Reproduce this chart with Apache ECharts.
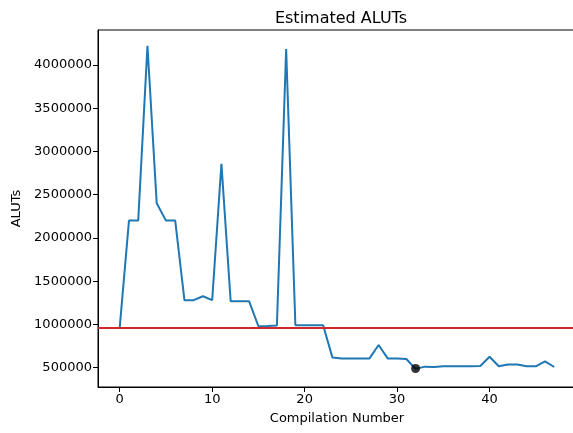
<!DOCTYPE html>
<html>
<head>
<meta charset="utf-8">
<script src="https://cdn.jsdelivr.net/npm/echarts@6/dist/echarts.min.js"></script>
<style>
    html, body { margin: 0; padding: 0; background: #fff; }
    #chart { width: 573px; height: 433px; }
</style>
</head>
<body>
<div id="chart"></div>
<script>
// 数据
var compilations = [];
for (var i = 0; i < 48; i++) compilations.push(i);
var aluts = [965000, 2200000, 2200000, 4223000, 2400000, 2200000, 2200000, 1280000, 1280000, 1325000,
    1280000, 2857000, 1267000, 1267000, 1267000, 978000, 982000, 988000, 4185000, 990000,
    990000, 990000, 990000, 618000, 604000, 604000, 604000, 604000, 761000, 604000,
    605000, 600000, 485000, 511000, 508000, 515000, 515000, 515000, 515000, 518000,
    625000, 515000, 535000, 535000, 515000, 515000, 573000, 507000];
var threshold = 958000;
var markedPoint = [32, 490000];
var xTicks = [0, 10, 20, 30, 40];
var yTicks = [500000, 1000000, 1500000, 2000000, 2500000, 3000000, 3500000, 4000000];

(function () {
    var myChart = echarts.init(document.getElementById("chart"));
    var font = "DejaVu Sans";
    var lineData = compilations.map(function (c, i) { return [c, aluts[i]]; });

    var option = {
        animation: false,
        title: {
            text: "Estimated ALUTs",
            left: 336,
            top: 6,
            textAlign: "center",
            textStyle: { fontFamily: font, fontSize: 16, fontWeight: "normal", color: "#000" }
        },
        grid: {
            left: 98,
            right: -3,
            top: 30,
            bottom: 46,
            outerBoundsMode: "none",
            containLabel: false,
            show: true,
            borderColor: "#000",
            borderWidth: 1
        },
        xAxis: {
            type: "value",
            min: -2.35,
            max: 49.35,
            name: "Compilation Number",
            nameLocation: "middle",
            nameGap: 25,
            nameTextStyle: { fontFamily: font, fontSize: 13, color: "#000" },
            splitLine: { show: false },
            axisLine: { show: true, onZero: false, lineStyle: { color: "#000", width: 1 } },
            axisTick: { show: true, length: 5, customValues: xTicks, lineStyle: { color: "#000" } },
            axisLabel: { customValues: xTicks, fontFamily: font, fontSize: 13, color: "#000", margin: 6 }
        },
        yAxis: {
            type: "value",
            min: 275500,
            max: 4405000,
            name: "ALUTs",
            nameLocation: "middle",
            nameGap: 70,
            nameTextStyle: { fontFamily: font, fontSize: 13, color: "#000" },
            splitLine: { show: false },
            axisLine: { show: true, onZero: false, lineStyle: { color: "#000", width: 1 } },
            axisTick: { show: true, length: 5, customValues: yTicks, lineStyle: { color: "#000" } },
            axisLabel: {
                customValues: yTicks,
                formatter: function (v) { return String(v); },
                fontFamily: font, fontSize: 13, color: "#000", margin: 6
            }
        },
        series: [
            {
                name: "ALUTs",
                type: "line",
                data: lineData,
                symbol: "none",
                lineStyle: { color: "#1f77b4", width: 2 },
                z: 3,
                markLine: {
                    silent: true,
                    symbol: "none",
                    label: { show: false },
                    lineStyle: { color: "#d62728", width: 2, type: "solid" },
                    data: [{ yAxis: threshold }]
                }
            },
            {
                name: "marked",
                type: "scatter",
                data: [markedPoint],
                symbolSize: 9,
                itemStyle: { color: "#000" },
                z: 4
            }
        ]
    };

    myChart.setOption(option);
    window.addEventListener("resize", function () {
        myChart.resize();
    });
})();
</script>
</body>
</html>
